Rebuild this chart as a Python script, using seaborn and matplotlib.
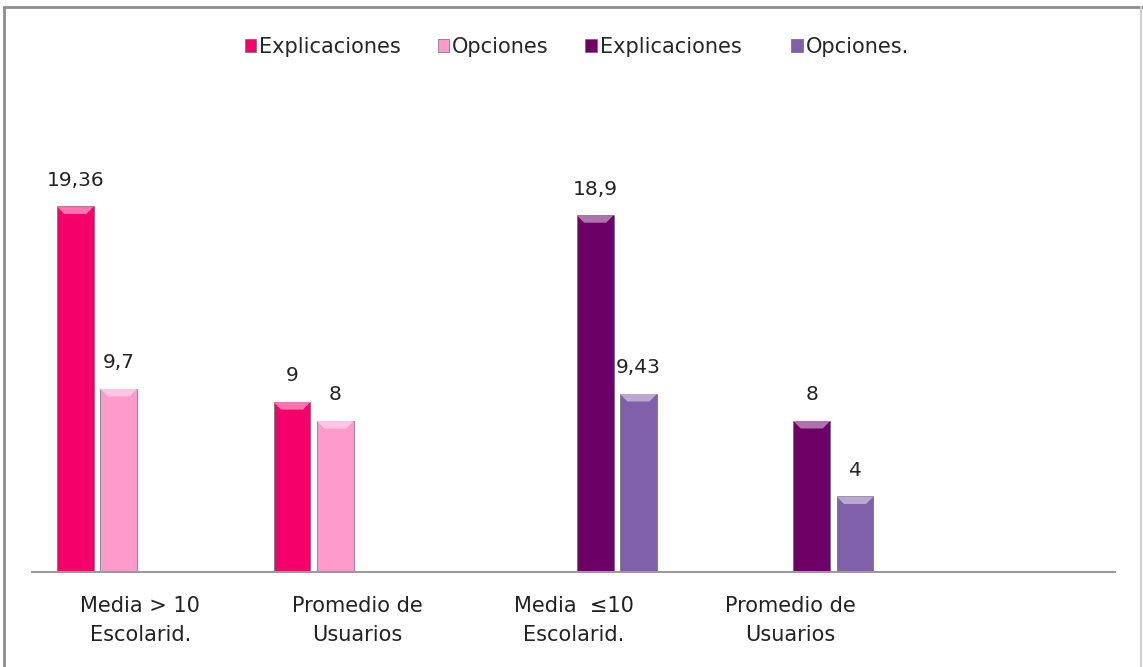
import matplotlib
matplotlib.use("Agg")
import matplotlib.pyplot as plt
from matplotlib.lines import Line2D
from matplotlib.patches import Polygon
import matplotlib.colors as mcolors
import seaborn as sns
import pandas as pd
import numpy as np

# datos
categorias = ["Media > 10\nEscolarid.", "Promedio de\nUsuarios",
              "Media  \u226410\nEscolarid.", "Promedio de\nUsuarios ", " "]
series = ["Explicaciones", "Opciones", "Explicaciones ", "Opciones."]
explicaciones_1 = [19.36, 9, np.nan, np.nan, np.nan]
opciones_1 = [9.7, 8, np.nan, np.nan, np.nan]
explicaciones_2 = [np.nan, np.nan, 18.9, 8, np.nan]
opciones_2 = [np.nan, np.nan, 9.43, 4, np.nan]
colores = ["#F5006A", "#FF9ACC", "#6C0067", "#8060A8"]

filas = []
for serie, valores in zip(series, [explicaciones_1, opciones_1, explicaciones_2, opciones_2]):
    for cat, v in zip(categorias, valores):
        filas.append({"categoria": cat, "serie": serie, "valor": v})
df = pd.DataFrame(filas).dropna()

sns.set_style("white")
plt.rcParams['font.family'] = ['DejaVu Sans']

fig = plt.figure(figsize=(11.43, 6.67), dpi=100)
ax = fig.add_axes([32 / 1143, 1 - 572 / 667, (1115 - 32) / 1143, 472 / 667])

sns.barplot(data=df, x="categoria", y="valor", hue="serie", order=categorias,
            hue_order=series, palette=colores, saturation=1, width=0.8, gap=0.15,
            edgecolor="#6a6a6a", linewidth=0.5, ax=ax)

# borde biselado claro arriba de cada barra (como en Excel)
for cont, col in zip(ax.containers, colores):
    claro = tuple(np.array(mcolors.to_rgb(col)) * 0.55 + 0.45)
    for b in cont:
        x0, w, h = b.get_x(), b.get_width(), b.get_height()
        d = 0.4
        ax.add_patch(Polygon([(x0, h), (x0 + w, h), (x0 + w * 0.8, h - d), (x0 + w * 0.2, h - d)],
                             closed=True, facecolor=claro, edgecolor="none", zorder=3))

for cont in ax.containers:
    etiquetas = [f"{b.get_height():g}".replace(".", ",") for b in cont]
    ax.bar_label(cont, labels=etiquetas, padding=12, fontsize=14.5, color="#222222")

ax.set_xlim(-0.5, 4.5)
ax.set_ylim(0, 25)
ax.set_xlabel("")
ax.set_ylabel("")
ax.set_yticks([])
ax.set_xticks(range(len(categorias)))
ax.set_xticklabels([c.strip() if c.strip() else "" for c in categorias], fontsize=15,
                   color="#222222", linespacing=1.6)
ax.tick_params(axis="x", length=0, pad=17)
for s in ["top", "right", "left"]:
    ax.spines[s].set_visible(False)
ax.spines["bottom"].set_color("#9a9a9a")
ax.spines["bottom"].set_linewidth(1.5)

handles, labels = ax.get_legend_handles_labels()
ax.legend(handles, ["Explicaciones", "Opciones", "Explicaciones  ", "Opciones."],
          loc="center", bbox_to_anchor=(577 / 1143, 1 - 47 / 667), bbox_transform=fig.transFigure,
          ncol=4, frameon=False, fontsize=15, handlelength=0.55, handleheight=0.55,
          handletextpad=0.15, columnspacing=1.75)

# marco del grafico
fig.add_artist(Line2D([4 / 1143, 4 / 1143], [0, 1 - 7 / 667], transform=fig.transFigure,
                      color="#8c8c8c", lw=2))
fig.add_artist(Line2D([4 / 1143, 1142 / 1143], [1 - 7 / 667, 1 - 7 / 667], transform=fig.transFigure,
                      color="#8c8c8c", lw=2))
fig.add_artist(Line2D([1141 / 1143, 1141 / 1143], [0, 1 - 7 / 667], transform=fig.transFigure,
                      color="#d0d0d0", lw=1.5))

fig.savefig("out.png", dpi=100)
plt.close(fig)
